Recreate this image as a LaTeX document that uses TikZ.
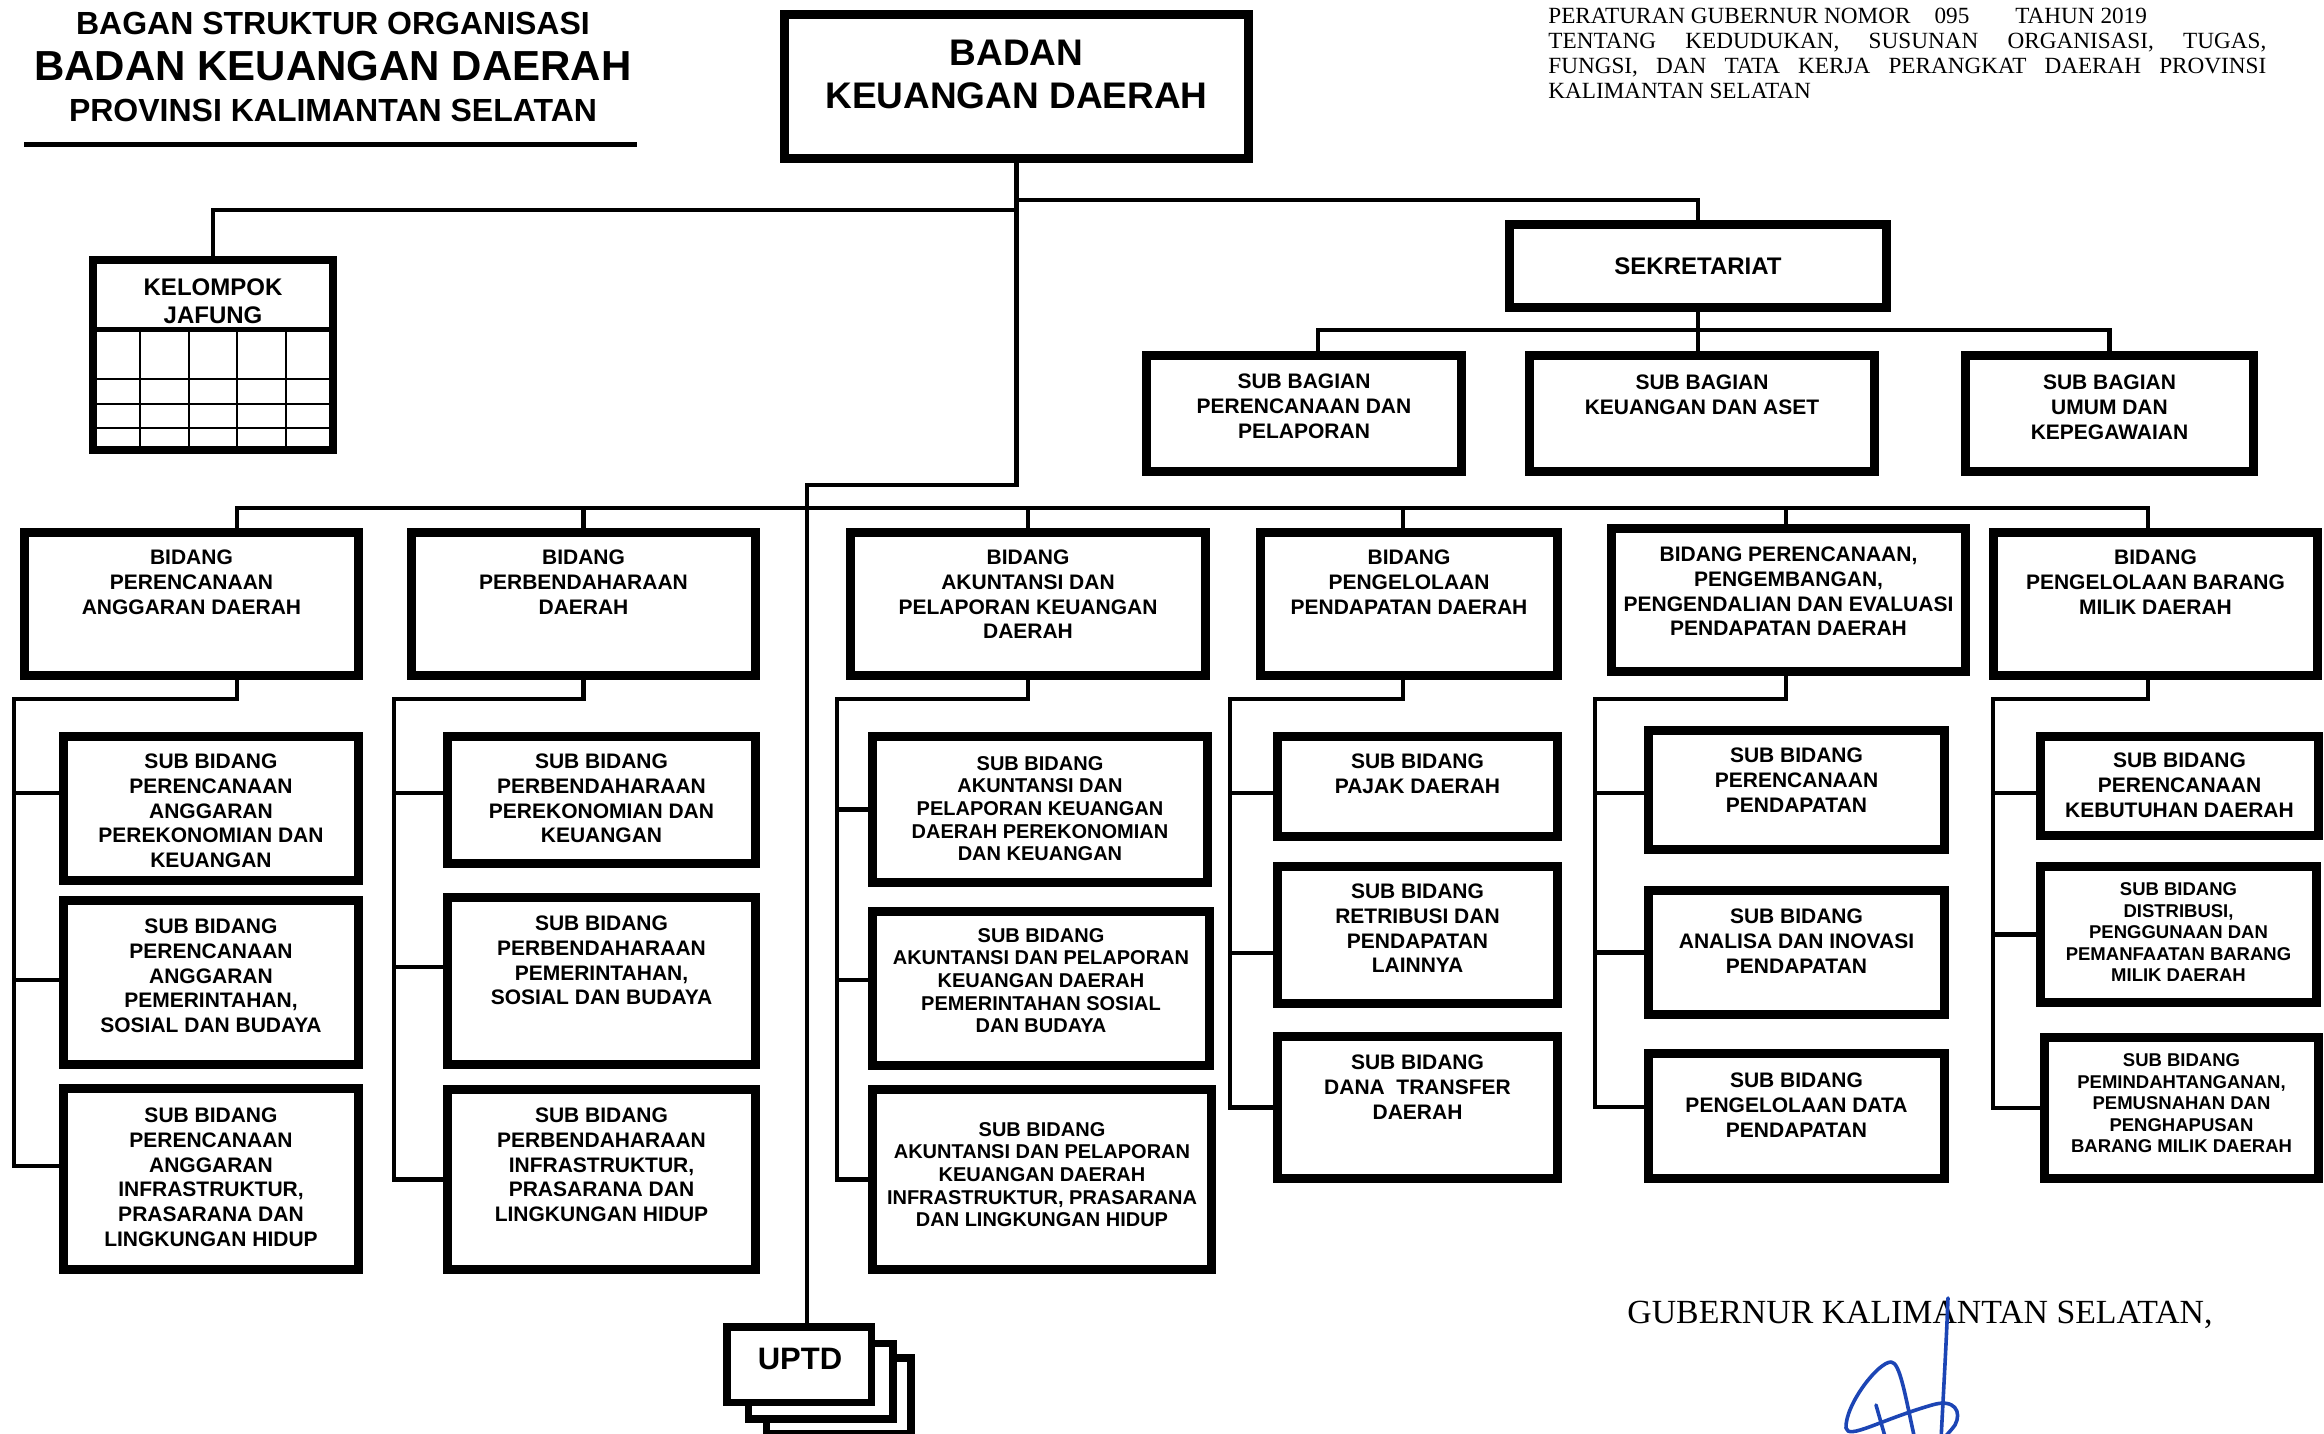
\documentclass[tikz,border=0pt]{standalone}
\usepackage{fontspec}
\setmainfont{Liberation Sans}
\newfontfamily\docserif{Liberation Serif}
\definecolor{inkblue}{HTML}{1C45B5}

\begin{document}
\begin{tikzpicture}[x=0.5pt, y=-0.5pt,
  conn/.style={line width=2.3pt},
  bx/.style={draw, line width=4.5pt, inner sep=0pt, anchor=north west},
  dims/.style 2 args={minimum width={#1*0.5pt-4.5pt}, minimum height={#2*0.5pt-4.5pt}},
  lbl/.style={font=\bfseries\fontsize{10.5}{12.4}\selectfont, align=center, inner sep=0pt, anchor=north},
  lblsm/.style={lbl, font=\bfseries\fontsize{10}{11.3}\selectfont},
  lblxs/.style={lbl, font=\bfseries\fontsize{9.25}{10.75}\selectfont},
  ubox/.style={draw, fill=white, line width=3.75pt, inner sep=0pt, minimum width=72.25pt, minimum height=37.75pt},
  jafgrid/.style={line width=1.1pt},
  sign/.style={inkblue, line width=1.8pt, line cap=round, line join=round}]
  \fill[white] (0,0) rectangle (2324,1434);
  \useasboundingbox (0,0) rectangle (2324,1434);

  % --- heading ---
  \node[font=\bfseries\fontsize{16}{16}\selectfont, inner sep=0pt] (head1) at (333,23) {BAGAN STRUKTUR ORGANISASI};
  \node[font=\bfseries\fontsize{21}{21}\selectfont, inner sep=0pt] (head2) at (333,66) {BADAN KEUANGAN DAERAH};
  \node[font=\bfseries\fontsize{16}{16}\selectfont, inner sep=0pt] (head3) at (333,110) {PROVINSI KALIMANTAN SELATAN};
  \draw[line width=2.5pt] (24,145) -- (637,145);

  % --- legal reference ---
  \node[font=\docserif\fontsize{11.6}{12.5}\selectfont, align=left, inner sep=0pt, anchor=north west] (perg) at (1548,8) {%
    PERATURAN GUBERNUR NOMOR\hspace{12pt}095\hspace{23pt}TAHUN 2019\\%
    \makebox[359pt][s]{TENTANG KEDUDUKAN, SUSUNAN ORGANISASI, TUGAS,}\\%
    \makebox[359pt][s]{FUNGSI, DAN TATA KERJA PERANGKAT DAERAH PROVINSI}\\%
    KALIMANTAN SELATAN};

  % --- head and secretariat ---
  \node[bx, dims={473}{153}] (badan) at (780,10) {};
  \node[lbl, font=\bfseries\fontsize{18.5}{21.5}\selectfont] (badan-t) at (1016.5,40) {BADAN\\KEUANGAN DAERAH};
  \node[bx, dims={386}{92}, font=\bfseries\fontsize{12}{12}\selectfont] (sek) at (1505,220) {SEKRETARIAT};
  \node[bx, dims={324}{125}] (sb1) at (1142,351) {};
  \node[bx, dims={354}{125}] (sb2) at (1525,351) {};
  \node[bx, dims={297}{125}] (sb3) at (1961,351) {};
  \node[lbl] (sb1-t) at (1304,373.5) {SUB BAGIAN\\PERENCANAAN DAN\\PELAPORAN};
  \node[lbl] (sb2-t) at (1702,374.5) {SUB BAGIAN\\KEUANGAN DAN ASET};
  \node[lbl] (sb3-t) at (2109.5,374.5) {SUB BAGIAN\\UMUM DAN\\KEPEGAWAIAN};

  % --- kelompok jafung ---
  \node[draw, line width=4pt, inner sep=0pt, anchor=north west, minimum width=120pt, minimum height=95pt] (jaf) at (89,256) {};
  \node[lbl, font=\bfseries\fontsize{12}{14}\selectfont] (jaf-t) at (213,278.5) {KELOMPOK\\JAFUNG};
  \draw[line width=2.5pt] (jaf.west |- 0,329) -- (jaf.east |- 0,329);
  \foreach \x in {140,189,237,286}
     \draw[jafgrid] (\x,331) -- (\x,450);
  \foreach \y in {379,404,428}
     \draw[jafgrid] (93,\y) -- (333,\y);

  % --- uptd ---
  \node[ubox] (uptd3) at (838.5,1395.5) {};
  \node[ubox] (uptd2) at (820.5,1381) {};
  \node[ubox] (uptd) at (799,1364.5) {};
  \node[font=\bfseries\fontsize{15.5}{15.5}\selectfont, inner sep=0pt] (uptd-t) at (800,1359) {UPTD};

  % --- top connectors ---
  \draw[conn] (badan.south) -- ++(0,322) -| ([xshift=4pt]uptd.north);
  \draw[conn] (badan.south) ++(0,37) -| (sek.north);
  \draw[conn] (badan.south) ++(0,47) -| (jaf.north);
  \draw[conn] (sek.south) -- (sek.south |- sb2.north);
  \draw[conn] (sek.south) ++(0,18) -| ([xshift=7pt]sb1.north);
  \draw[conn] (sek.south) ++(0,18) -| (sb3.north);

  % --- bidang row ---
  \coordinate (bus) at (1017,508);
  \node[bx, dims={343}{152}] (b1) at (20,528) {};
  \node[bx, dims={353}{152}] (b2) at (407,528) {};
  \node[bx, dims={364}{152}] (b3) at (846,528) {};
  \node[bx, dims={306}{152}] (b4) at (1256,528) {};
  \node[bx, dims={363}{152}] (b5) at (1607,524) {};
  \node[bx, dims={333}{152}] (b6) at (1989,528) {};
  \node[lbl] (b1-t) at (191.5,549.5) {BIDANG\\PERENCANAAN\\ANGGARAN DAERAH};
  \node[lbl] (b2-t) at (583.5,549.5) {BIDANG\\PERBENDAHARAAN\\DAERAH};
  \node[lbl] (b3-t) at (1028,549.5) {BIDANG\\AKUNTANSI DAN\\PELAPORAN KEUANGAN\\DAERAH};
  \node[lbl] (b4-t) at (1409,549.5) {BIDANG\\PENGELOLAAN\\PENDAPATAN DAERAH};
  \node[lbl] (b5-t) at (1788.5,546.5) {BIDANG PERENCANAAN,\\PENGEMBANGAN,\\PENGENDALIAN DAN EVALUASI\\PENDAPATAN DAERAH};
  \node[lbl] (b6-t) at (2155.5,549.5) {BIDANG\\PENGELOLAAN BARANG\\MILIK DAERAH};
  \draw[conn] ([xshift=22.75pt]b1.north) -- ++(0,-20) -| ([xshift=-3.75pt]b6.north);
  \foreach \b in {b2,b3}
     \draw[conn] (\b.north) -- (\b.north |- bus);
  \draw[conn] ([xshift=-3pt]b4.north) -- ++(0,-20);
  \draw[conn] ([xshift=-1.25pt]b5.north) -- ++(0,-16);

  % --- perencanaan anggaran ---
  \node[bx, dims={304}{153}] (s11) at (59,732) {};
  \node[bx, dims={304}{173}] (s12) at (59,896) {};
  \node[bx, dims={304}{190}] (s13) at (59,1084) {};
  \node[lbl] (s11-t) at (211,753.5) {SUB BIDANG\\PERENCANAAN\\ANGGARAN\\PEREKONOMIAN DAN\\KEUANGAN};
  \node[lbl] (s12-t) at (211,918.5) {SUB BIDANG\\PERENCANAAN\\ANGGARAN\\PEMERINTAHAN,\\SOSIAL DAN BUDAYA};
  \node[lbl] (s13-t) at (211,1107.5) {SUB BIDANG\\PERENCANAAN\\ANGGARAN\\INFRASTRUKTUR,\\PRASARANA DAN\\LINGKUNGAN HIDUP};
  \draw[conn] ([xshift=22.75pt]b1.south) -- ++(0,19) -| ([xshift=-22.5pt,yshift=6.5pt]s13.west) -- ([yshift=6.5pt]s13.west);
  \draw[conn] ([yshift=7.75pt]s11.west) -- ++(-45,0);
  \draw[conn] ([yshift=1.25pt]s12.west) -- ++(-45,0);

  % --- perbendaharaan ---
  \node[bx, dims={317}{136}] (s21) at (443,732) {};
  \node[bx, dims={317}{176}] (s22) at (443,893) {};
  \node[bx, dims={317}{189}] (s23) at (443,1085) {};
  \node[lbl] (s21-t) at (601.5,753.5) {SUB BIDANG\\PERBENDAHARAAN\\PEREKONOMIAN DAN\\KEUANGAN};
  \node[lbl] (s22-t) at (601.5,915.5) {SUB BIDANG\\PERBENDAHARAAN\\PEMERINTAHAN,\\SOSIAL DAN BUDAYA};
  \node[lbl] (s23-t) at (601.5,1107.5) {SUB BIDANG\\PERBENDAHARAAN\\INFRASTRUKTUR,\\PRASARANA DAN\\LINGKUNGAN HIDUP};
  \draw[conn] (b2.south) -- ++(0,19) -| ([xshift=-24.5pt]s23.west) -- (s23.west);
  \draw[conn] ([yshift=3.5pt]s21.west) -- ++(-49,0);
  \draw[conn] ([yshift=7pt]s22.west) -- ++(-49,0);

  % --- akuntansi ---
  \node[bx, dims={344}{155}] (s31) at (868,732) {};
  \node[bx, dims={346}{163}] (s32) at (868,907) {};
  \node[bx, dims={348}{189}] (s33) at (868,1085) {};
  \node[lblsm] (s31-t) at (1040,756) {SUB BIDANG\\AKUNTANSI DAN\\PELAPORAN KEUANGAN\\DAERAH PEREKONOMIAN\\DAN KEUANGAN};
  \node[lblsm] (s32-t) at (1041,928) {SUB BIDANG\\AKUNTANSI DAN PELAPORAN\\KEUANGAN DAERAH\\PEMERINTAHAN SOSIAL\\DAN BUDAYA};
  \node[lblsm] (s33-t) at (1042,1122) {SUB BIDANG\\AKUNTANSI DAN PELAPORAN\\KEUANGAN DAERAH\\INFRASTRUKTUR, PRASARANA\\DAN LINGKUNGAN HIDUP};
  \draw[conn] (b3.south) -- ++(0,19) -| ([xshift=-15.5pt]s33.west) -- (s33.west);
  \draw[conn] (s31.west) -- ++(-31,0);
  \draw[conn] ([yshift=4.25pt]s32.west) -- ++(-31,0);

  % --- pendapatan ---
  \node[bx, dims={289}{109}] (s41) at (1273,732) {};
  \node[bx, dims={289}{146}] (s42) at (1273,862) {};
  \node[bx, dims={289}{151}] (s43) at (1273,1032) {};
  \node[lbl] (s41-t) at (1417.5,753.5) {SUB BIDANG\\PAJAK DAERAH};
  \node[lbl] (s42-t) at (1417.5,883.5) {SUB BIDANG\\RETRIBUSI DAN\\PENDAPATAN\\LAINNYA};
  \node[lbl] (s43-t) at (1417.5,1054.5) {SUB BIDANG\\DANA\ \ TRANSFER\\DAERAH};
  \draw[conn] ([xshift=-3pt]b4.south) -- ++(0,19) -| ([xshift=-21.5pt]s43.west) -- (s43.west);
  \draw[conn] ([yshift=-3.25pt]s41.west) -- ++(-43,0);
  \draw[conn] ([yshift=-9pt]s42.west) -- ++(-43,0);

  % --- perencanaan pendapatan ---
  \node[bx, dims={305}{128}] (s51) at (1644,726) {};
  \node[bx, dims={305}{133}] (s52) at (1644,886) {};
  \node[bx, dims={305}{134}] (s53) at (1644,1049) {};
  \node[lbl] (s51-t) at (1796.5,747.5) {SUB BIDANG\\PERENCANAAN\\PENDAPATAN};
  \node[lbl] (s52-t) at (1796.5,908.5) {SUB BIDANG\\ANALISA DAN INOVASI\\PENDAPATAN};
  \node[lbl] (s53-t) at (1796.5,1072.5) {SUB BIDANG\\PENGELOLAAN DATA\\PENDAPATAN};
  \draw[conn] ([xshift=-1.25pt]b5.south) -- ++(0,23) -| ([xshift=-24.5pt,yshift=4.5pt]s53.west) -- ([yshift=4.5pt]s53.west);
  \draw[conn] ([yshift=-1.5pt]s51.west) -- ++(-49,0);
  \draw[conn] (s52.west) -- ++(-49,0);

  % --- barang milik daerah ---
  \node[bx, dims={287}{108}] (s61) at (2036,732) {};
  \node[bx, dims={285}{145}] (s62) at (2036,862) {};
  \node[bx, dims={283}{150}] (s63) at (2040,1033) {};
  \node[lbl] (s61-t) at (2179.5,752.5) {SUB BIDANG\\PERENCANAAN\\KEBUTUHAN DAERAH};
  \node[lblxs] (s62-t) at (2178.5,882.5) {SUB BIDANG\\DISTRIBUSI,\\PENGGUNAAN DAN\\PEMANFAATAN BARANG\\MILIK DAERAH};
  \node[lblxs] (s63-t) at (2181.5,1053.5) {SUB BIDANG\\PEMINDAHTANGANAN,\\PEMUSNAHAN DAN\\PENGHAPUSAN\\BARANG MILIK DAERAH};
  \draw[conn] ([xshift=-3.75pt]b6.south) -- ++(0,19) -| ([xshift=-23.5pt]s63.west) -- (s63.west);
  \draw[conn] ([yshift=-3.5pt]s61.west) -- ++(-43,0);
  \draw[conn] (s62.west) -- ++(-43,0);

  % --- signature ---
  \node[font=\docserif\fontsize{16.9}{16.9}\selectfont, anchor=base west, inner sep=0pt] (gub) at (1627,1323) {GUBERNUR KALIMANTAN SELATAN,};
  \draw[sign] (1948,1298) .. controls (1946,1350) and (1943,1400) .. (1941,1440);
  \draw[sign] (1915,1440) .. controls (1905,1395) and (1900,1362) .. (1891,1362)
     .. controls (1878,1362) and (1845,1405) .. (1846,1428)
     .. controls (1848,1440) and (1880,1420) .. (1932,1405)
     .. controls (1955,1398) and (1962,1412) .. (1955,1425)
     .. controls (1950,1432) and (1945,1436) .. (1943,1440);
  \draw[sign] (1876,1405) -- (1886,1440);
\end{tikzpicture}
\end{document}
